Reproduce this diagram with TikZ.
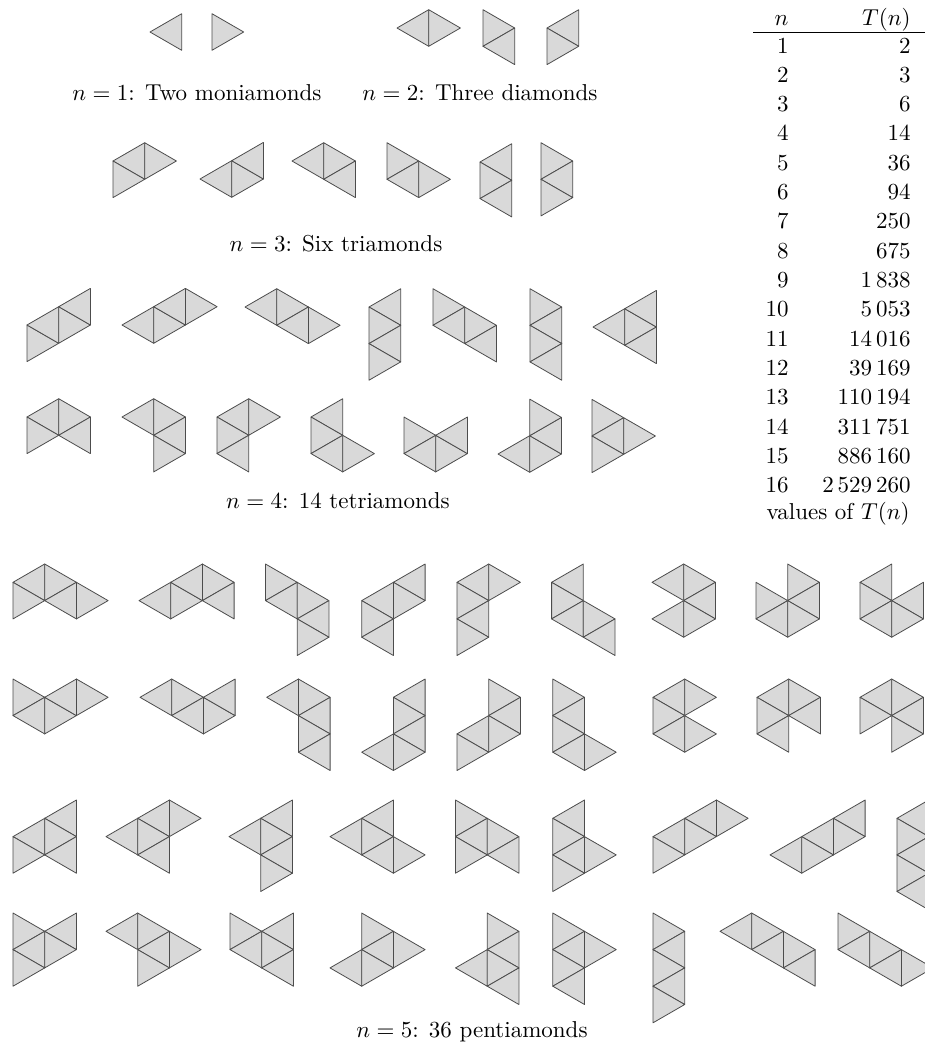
\documentclass[tikz,border=0pt]{standalone}
\usepackage{amsmath}
\tikzset{
  tri/.style={fill=black!15, draw=black!70, line width=0.8pt, line join=round},
  lbl/.style={scale=2.3, inner sep=0pt},
}
\newcommand{\ptri}[3]{%
  \if#1R\relax
    \draw[tri] (#2,#3-1) -- (#2,#3+1) -- (#2+1,#3) -- cycle;
  \else
    \draw[tri] (#2+1,#3-1) -- (#2+1,#3+1) -- (#2,#3) -- cycle;
  \fi}
\newcommand{\poly}[3]{%
  \begin{scope}[shift={(#1,#2)}, x=31.7pt, y=-18.3pt]
    \foreach \d/\a/\b in {#3} {\ptri{\d}{\a}{\b}}
  \end{scope}}
\begin{document}
\begin{tikzpicture}[x=1pt, y=-1pt]
\useasboundingbox (0,0) rectangle (925,1047);
% n = 1
\poly{150}{32}{L/0/0}
\poly{212}{32}{R/0/0}
% n = 2
\poly{397}{28}{L/0/0, R/1/0}
\poly{483}{28}{R/0/0, L/0/1}
\poly{547}{28}{L/0/0, R/0/1}
% n = 3
\poly{113}{161}{L/0/0, R/1/0, R/0/1}
\poly{200}{179}{L/0/0, R/1/0, L/1/-1}
\poly{292}{161}{L/0/0, R/1/0, L/1/1}
\poly{387}{161}{R/0/0, L/0/1, R/1/1}
\poly{480}{162}{L/0/0, R/0/1, L/0/2}
\poly{541}{161}{R/0/0, L/0/1, R/0/2}
% n = 4, row 1
\poly{27}{325}{R/0/1, L/0/0, R/1/0, L/1/-1}
\poly{122}{325}{L/0/0, R/1/0, L/1/-1, R/2/-1}
\poly{245}{307}{L/0/0, R/1/0, L/1/1, R/2/1}
\poly{369}{307}{L/0/0, R/0/1, L/0/2, R/0/3}
\poly{433}{307}{R/0/0, L/0/1, R/1/1, L/1/2}
\poly{530}{307}{R/0/0, L/0/1, R/0/2, L/0/3}
\poly{593}{327}{L/0/0, R/1/0, L/1/-1, L/1/1}
% n = 4, row 2
\poly{27}{417}{L/0/0, R/1/0, R/0/1, L/1/1}
\poly{122}{417}{L/0/0, R/1/0, L/1/1, R/1/2}
\poly{217}{417}{L/0/0, R/1/0, R/0/1, L/0/2}
\poly{311}{417}{L/0/0, R/0/1, L/0/2, R/1/2}
\poly{404}{417}{R/0/1, L/0/2, R/1/2, L/1/1}
\poly{498}{454}{L/0/0, R/1/0, L/1/-1, R/1/-2}
\poly{592}{436}{R/0/-1, L/0/0, R/1/0, R/0/1}
% n = 5, row 1
\poly{13}{564}{L/0/1, R/1/1, R/0/2, L/1/2, R/2/2}
\poly{139}{564}{L/0/2, R/1/2, L/1/1, R/2/1, L/2/2}
\poly{265.5}{564}{R/0/1, L/0/2, R/1/2, L/1/3, R/1/4}
\poly{361.7}{564}{L/1/1, R/1/2, L/0/2, R/0/3, L/0/4}
\poly{457}{564}{L/0/1, R/1/1, R/0/2, L/0/3, R/0/4}
\poly{551.6}{564}{L/0/1, R/0/2, L/0/3, R/1/3, L/1/4}
\poly{652}{564}{L/0/1, R/1/1, L/1/2, L/0/3, R/1/3}
\poly{756}{564}{R/1/1, L/1/2, R/0/2, L/0/3, R/1/3}
\poly{860}{564}{L/0/1, R/0/2, L/1/2, L/0/3, R/1/3}
% n = 5, row 2
\poly{13}{679}{R/0/1, L/0/2, R/1/2, L/1/1, R/2/1}
\poly{140}{679}{L/0/1, R/1/1, L/1/2, R/2/2, L/2/1}
\poly{266.7}{679}{L/0/1, R/1/1, L/1/2, R/1/3, L/1/4}
\poly{361.7}{679}{L/1/1, R/1/2, L/1/3, L/0/4, R/1/4}
\poly{457}{679}{R/1/1, L/1/2, L/0/3, R/1/3, R/0/4}
\poly{552.8}{679}{R/0/1, L/0/2, R/0/3, L/0/4, R/1/4}
\poly{653}{679}{L/0/1, R/1/1, R/0/2, L/0/3, R/1/3}
\poly{757}{679}{L/0/1, R/1/1, R/0/2, L/1/2, L/0/3}
\poly{860}{679}{L/0/1, R/1/1, R/0/2, L/1/2, R/1/3}
% n = 5, row 3
\poly{13}{800}{L/1/1, L/0/2, R/1/2, R/0/3, L/1/3}
\poly{106}{800}{L/1/1, R/2/1, L/0/2, R/1/2, L/1/3}
\poly{229}{800}{L/1/1, L/0/2, R/1/2, L/1/3, R/1/4}
\poly{330}{800}{L/1/1, L/0/2, R/1/2, L/1/3, R/2/3}
\poly{455.5}{800}{R/0/1, L/0/2, R/1/2, R/0/3, L/1/3}
\poly{552.8}{800}{L/0/1, R/0/2, L/0/3, R/1/3, R/0/4}
\poly{653}{800}{L/1/1, R/2/1, L/0/2, R/1/2, R/0/3}
\poly{770}{800}{L/2/1, L/1/2, R/2/2, L/0/3, R/1/3}
\poly{897}{800}{L/0/1, R/0/2, L/0/3, R/0/4, L/0/5}
% n = 5, row 4
\poly{13}{913}{R/0/1, L/1/1, L/0/2, R/1/2, R/0/3}
\poly{106}{913}{L/0/1, R/1/1, L/1/2, R/2/2, R/1/3}
\poly{230}{913}{R/0/1, L/1/1, L/0/2, R/1/2, L/1/3}
\poly{330}{913}{R/1/1, L/1/2, R/2/2, L/0/3, R/1/3}
\poly{455.5}{913}{R/1/1, L/1/2, L/0/3, R/1/3, L/1/4}
\poly{552.8}{913}{R/0/1, L/0/2, R/1/2, R/0/3, L/0/4}
\poly{653}{913}{R/0/1, L/0/2, R/0/3, L/0/4, R/0/5}
\poly{720}{913}{L/0/1, R/1/1, L/1/2, R/2/2, L/2/3}
\poly{838}{913}{R/0/1, L/0/2, R/1/2, L/1/3, R/2/3}
% captions
\node[lbl, anchor=base] (c1) at (197,100) {$n=1$: Two moniamonds};
\node[lbl, anchor=base] (c2) at (480,100) {$n=2$: Three diamonds};
\node[lbl, anchor=base] (c3) at (336,251) {$n=3$: Six triamonds};
\node[lbl, anchor=base] (c4) at (338,508) {$n=4$: 14 tetriamonds};
\node[lbl, anchor=base] (c5) at (472,1037) {$n=5$: 36 pentiamonds};
% table
\node[lbl, anchor=base east] (hn) at (789,25) {$n$};
\node[lbl, anchor=base east] (hT) at (911,25) {$T(n)$};
\coordinate (r1) at (753,32);
\coordinate (r2) at (925,32);
\draw[line width=0.9pt] (r1) -- (r2);
\foreach \k/\v in {1/2, 2/3, 3/6, 4/14, 5/36, 6/94, 7/250, 8/675,
  9/1\,838, 10/5\,053, 11/14\,016, 12/39\,169, 13/110\,194,
  14/311\,751, 15/886\,160, 16/2\,529\,260} {
  \node[lbl, anchor=base east] (tn\k) at (789,{53+(\k-1)*29.33}) {$\k$};
  \node[lbl, anchor=base east] (tv\k) at (911,{53+(\k-1)*29.33}) {$\v$};
}
\node[lbl, anchor=base] (tcap) at (838,519) {values of $T(n)$};
\end{tikzpicture}
\end{document}
